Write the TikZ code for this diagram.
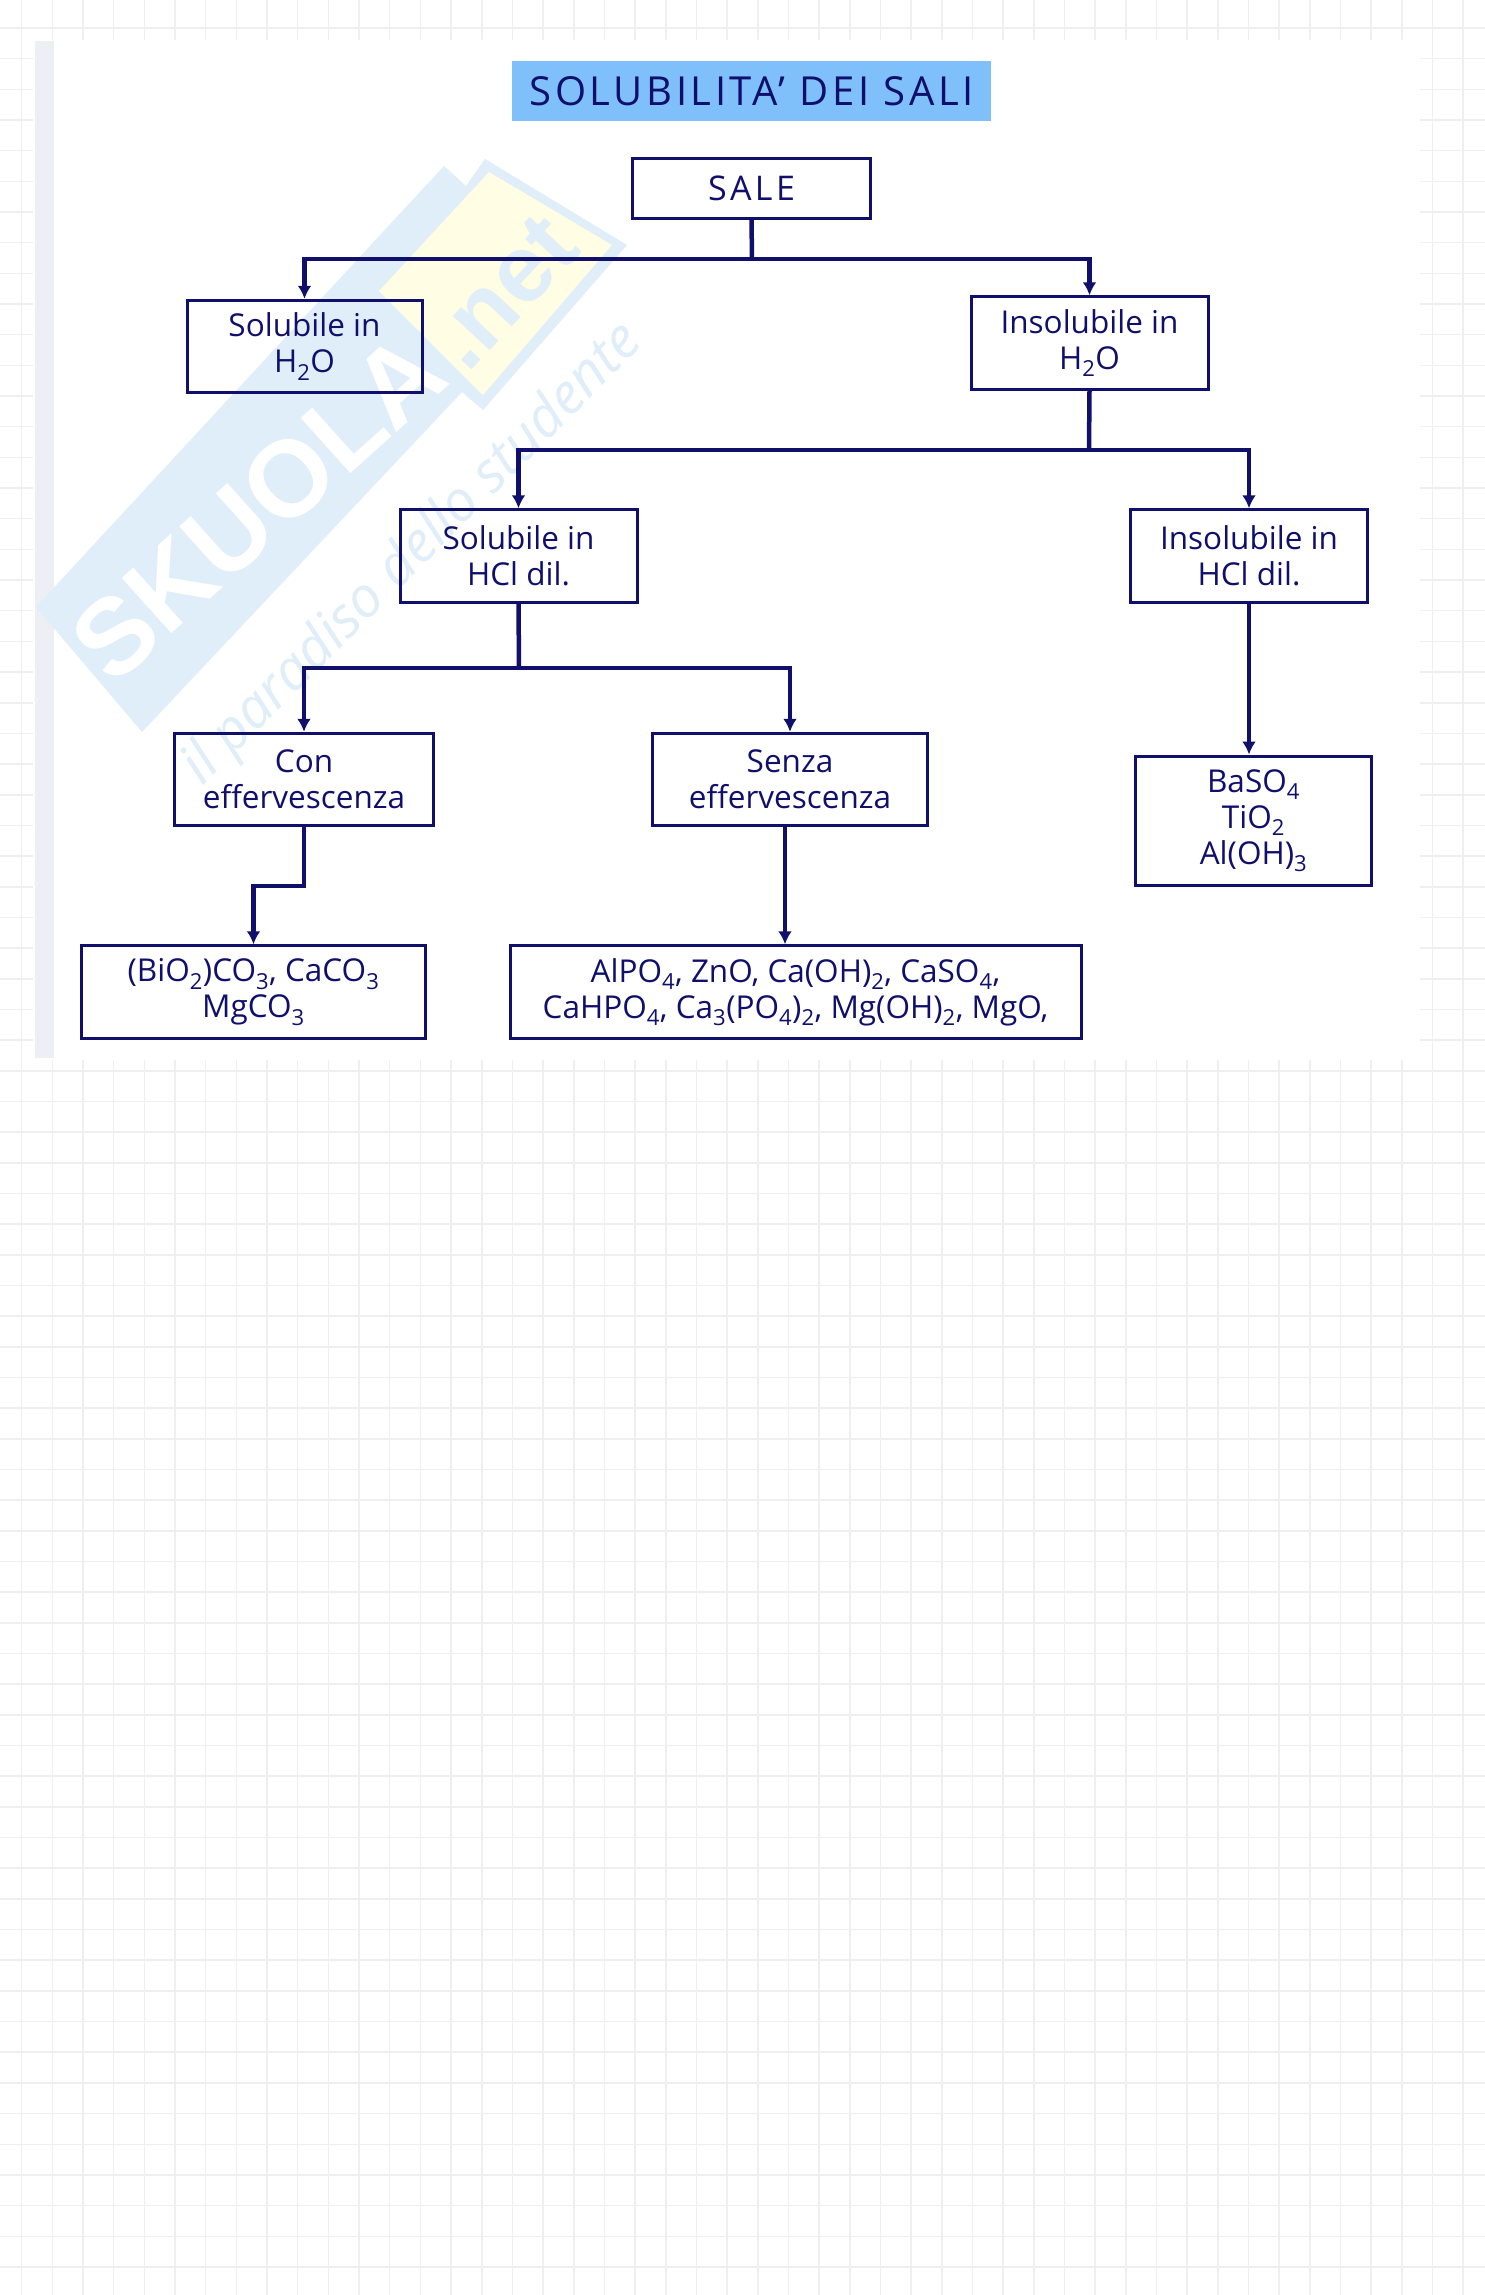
\documentclass[tikz,border=0pt]{standalone}
\usepackage{fontspec}
\setmainfont{Open Sans}
\newfontfamily\markfont{Liberation Sans}
\usetikzlibrary{arrows.meta}
\definecolor{navyline}{HTML}{10106C}
\definecolor{titleblue}{HTML}{7FBFFA}
\definecolor{markblue}{HTML}{DFEEF8}
\definecolor{markyellow}{HTML}{FFFDE3}
\definecolor{gridgrey}{HTML}{EFEFEF}
\definecolor{stripgrey}{HTML}{EEEEF5}
\tikzset{
  box/.style={draw=navyline, line width=3pt, text=navyline, align=center, inner sep=0pt, minimum height=92.5pt, font=\fontsize{31.5}{36}\selectfont},
  link/.style={draw=navyline, line width=4.5pt},
  arrowlink/.style={link, -{Latex[length=13pt,width=14pt]}},
  gridline/.style={draw=gridgrey, line width=1.5pt}
}

\begin{document}
\begin{tikzpicture}[x=1pt, y=-1pt]
    \useasboundingbox (0,0) rectangle (1485,2295);
    \fill[white] (0,0) rectangle (1485,2295);
    \foreach \k in {0,...,47} {\draw[gridline] ({21.7+30.67*\k},0) -- ({21.7+30.67*\k},2295);}
    \foreach \k in {0,...,73} {\draw[gridline] (0,{28+30.67*\k}) -- (1485,{28+30.67*\k});}
    \fill[white] (33,40) rectangle (1420,1060);
    \fill[stripgrey] (35,41) rectangle (54,1058);
    % watermark
    \fill[markblue] (36,607) -- (444,166) -- (466,186) -- (485,159) -- (627,245) -- (483,410) -- (462,392) -- (142,732) -- cycle;
    \fill[markyellow] (489,172) -- (612,245) -- (483,395) -- (379,291) -- cycle;
    \node[text=white, rotate=42, font=\markfont\bfseries\fontsize{108}{108}\selectfont] (w1) at (258,507) {SKUOLA};
    \node[text=markblue, rotate=47, font=\markfont\bfseries\fontsize{95}{95}\selectfont] (w2) at (503,292) {.net};
    \node[text=markblue, rotate=45, font=\itshape\fontsize{56}{56}\selectfont] (w3) at (413,555) {il paradiso dello studente};
    % boxes
    \node[box, draw=none, fill=titleblue, minimum width=479pt, minimum height=60pt, font=\fontsize{40}{40}\selectfont\addfontfeature{LetterSpace=9}] (1) at (751.5,91) {SOLUBILITA' DEI SALI};
    \node[box, minimum width=238pt, minimum height=60pt, font=\fontsize{34}{34}\selectfont\addfontfeature{LetterSpace=10}] (2) [below of=1, node distance=97pt] {SALE};
    \node[box, minimum width=235pt] (3) [below of=2, node distance=158.5pt, xshift=-447pt] {Solubile in\\H\textsubscript{2}O};
    \node[box, minimum width=237pt] (4) [below of=2, node distance=155pt, xshift=338pt] {Insolubile in\\H\textsubscript{2}O};
    \node[box, minimum width=237pt] (5) [below of=4, node distance=213pt, xshift=-571pt] {Solubile in\\HCl dil.};
    \node[box, minimum width=237pt] (6) [below of=4, node distance=213pt, xshift=159.5pt] {Insolubile in\\HCl dil.};
    \node[box, minimum width=259pt] (7) [below of=5, node distance=223.5pt, xshift=-214.5pt] {Con\\effervescenza};
    \node[box, minimum width=275pt] (8) [below of=5, node distance=223.5pt, xshift=271.5pt] {Senza\\effervescenza};
    \node[box, minimum width=236pt, minimum height=129pt] (9) [below of=6, node distance=264.5pt, xshift=4.5pt] {BaSO\textsubscript{4}\\TiO\textsubscript{2}\\Al(OH)\textsubscript{3}};
    \node[box, minimum width=344pt] (10) [below of=7, node distance=212.5pt, xshift=-50.5pt] {(BiO\textsubscript{2})CO\textsubscript{3}, CaCO\textsubscript{3}\\MgCO\textsubscript{3}};
    \node[box, minimum width=571pt] (11) [below of=8, node distance=212.5pt, xshift=5.5pt] {AlPO\textsubscript{4}, ZnO, Ca(OH)\textsubscript{2}, CaSO\textsubscript{4},\\CaHPO\textsubscript{4}, Ca\textsubscript{3}(PO\textsubscript{4})\textsubscript{2}, Mg(OH)\textsubscript{2}, MgO,};
    % bends of the connectors
    \coordinate (12) at (752,259);
    \coordinate (13) at (1089,450);
    \coordinate (14) at (519,668);
    \coordinate (15) at (304,886);
    \coordinate (16) at (785,886);
    \draw[link] (2.south) -- (12);
    \draw[arrowlink] (12) -| (3.north);
    \draw[arrowlink] (12) -| (4.north);
    \draw[link] (4.south) -- (13);
    \draw[arrowlink] (13) -| (5.north);
    \draw[arrowlink] (13) -| (6.north);
    \draw[link] (5.south) -- (14);
    \draw[arrowlink] (14) -| (7.north);
    \draw[arrowlink] (14) -| (8.north);
    \draw[arrowlink] (7.south) -- (15) -| (10.north);
    \draw[arrowlink] (16 |- 8.south) -- (16 |- 11.north);
    \draw[arrowlink] (6.south) -- (6.south |- 9.north);
\end{tikzpicture}
\end{document}
